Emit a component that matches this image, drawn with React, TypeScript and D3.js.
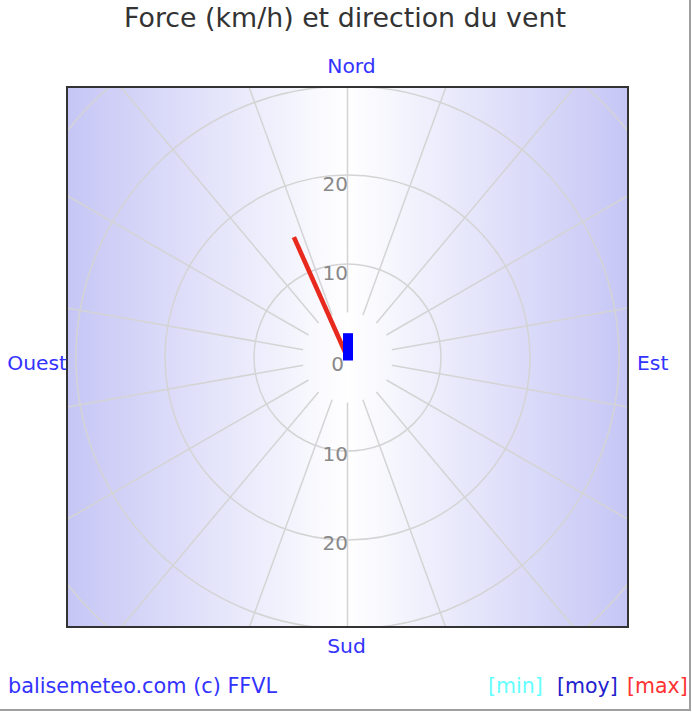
import React from "react";
import * as d3 from "d3";

// ---- data ----
const title = "Force (km/h) et direction du vent";
const compass = [
  { name: "Nord", deg: 0 },
  { name: "Est", deg: 90 },
  { name: "Sud", deg: 180 },
  { name: "Ouest", deg: 270 },
];
const ringValues = [10, 20, 30, 40, 50];
const tickLabelsUp = [0, 10, 20];
const tickLabelsDown = [10, 20];
const spokeDegrees = d3.range(0, 360, 20);
const moy = { dir: 0, speed: 2.6 };
const max = { dir: 336, speed: 14.3 };
const legend = [
  { label: "[min]", color: "#66ffff" },
  { label: "[moy]", color: "#2222cc" },
  { label: "[max]", color: "#ff3333" },
];
const credit = "balisemeteo.com (c) FFVL";

const W = 692;
const H = 714;
const frame = { x: 67, y: 87, w: 561, h: 540 };
const cx = 347.5;
const cy = 357.5;

const r = d3
  .scaleLinear()
  .domain([0, 10, 20, 30, 40, 50])
  .range([0, 93.5, 182.5, 271.5, 360.5, 449.5]);

const font = "'DejaVu Sans', Verdana, sans-serif";

function pt(deg: number, rad: number): [number, number] {
  const a = (deg * Math.PI) / 180;
  return [cx + rad * Math.sin(a), cy - rad * Math.cos(a)];
}

export default function App() {
  const legendX = [488, 557, 627];
  const [mx, my] = pt(max.dir, r(max.speed));
  const moyLen = r(moy.speed);
  return (
    <svg
      width={W}
      height={H}
      style={{ position: "absolute", left: 0, top: 0, background: "#fff" }}
      fontFamily={font}
    >
      <defs>
        <linearGradient id="bg" x1="0" x2="1" y1="0" y2="0">
          <stop offset="0" stopColor="#c6c6f6" />
          <stop offset="0.5" stopColor="#ffffff" />
          <stop offset="1" stopColor="#c6c6f6" />
        </linearGradient>
        <clipPath id="clip">
          <rect x={frame.x} y={frame.y} width={frame.w} height={frame.h} />
        </clipPath>
      </defs>
      <rect x={0} y={0} width={W} height={H} fill="#fff" />
      <text x={345} y={27} textAnchor="middle" fontSize={26.8} fill="#333">
        {title}
      </text>
      <rect x={frame.x} y={frame.y} width={frame.w} height={frame.h} fill="url(#bg)" />
      <g clipPath="url(#clip)" stroke="#d4d4d4" strokeWidth={1.5} fill="none">
        {ringValues.map((v) => (
          <circle key={v} cx={cx} cy={cy} r={r(v)} />
        ))}
        {spokeDegrees.map((d) => {
          const [x1, y1] = pt(d, 45);
          const [x2, y2] = pt(d, 600);
          return <line key={d} x1={x1} y1={y1} x2={x2} y2={y2} />;
        })}
      </g>
      <g fill="#888" fontSize={20} textAnchor="end">
        {tickLabelsUp.map((v) => (
          <text key={"u" + v} x={v === 0 ? 344 : 348} y={v === 0 ? cy + 13.8 : cy - r(v) + 15.6}>
            {v}
          </text>
        ))}
        {tickLabelsDown.map((v) => (
          <text key={"d" + v} x={348} y={cy + r(v) + 9.6}>
            {v}
          </text>
        ))}
      </g>
      <line x1={cx} y1={cy} x2={mx} y2={my} stroke="#e82a1e" strokeWidth={4.6} />
      <rect
        x={cx - 4.5}
        y={cy - moyLen}
        width={10}
        height={moyLen + 3}
        fill="#0000ff"
        transform={`rotate(${moy.dir} ${cx} ${cy})`}
      />
      <rect
        x={frame.x}
        y={frame.y}
        width={frame.w}
        height={frame.h}
        fill="none"
        stroke="#333"
        strokeWidth={2}
      />
      <g fill="#3333ff" fontSize={20.3}>
        {compass.map((c) => {
          if (c.name === "Nord")
            return (
              <text key={c.name} x={351.5} y={73} textAnchor="middle">
                {c.name}
              </text>
            );
          if (c.name === "Sud")
            return (
              <text key={c.name} x={346.5} y={653} textAnchor="middle">
                {c.name}
              </text>
            );
          if (c.name === "Est")
            return (
              <text key={c.name} x={637} y={370} textAnchor="start">
                {c.name}
              </text>
            );
          return (
            <text key={c.name} x={67} y={370} textAnchor="end">
              {c.name}
            </text>
          );
        })}
      </g>
      <text x={8} y={693} fontSize={20.8} fill="#3333ff">
        {credit}
      </text>
      <g fontSize={20.5}>
        {legend.map((l, i) => (
          <text key={l.label} x={legendX[i]} y={693} fill={l.color}>
            {l.label}
          </text>
        ))}
      </g>
      <line x1={690} y1={0} x2={690} y2={711} stroke="#a0a0a0" strokeWidth={2} />
      <line x1={0} y1={710} x2={691} y2={710} stroke="#a0a0a0" strokeWidth={2} />
    </svg>
  );
}
